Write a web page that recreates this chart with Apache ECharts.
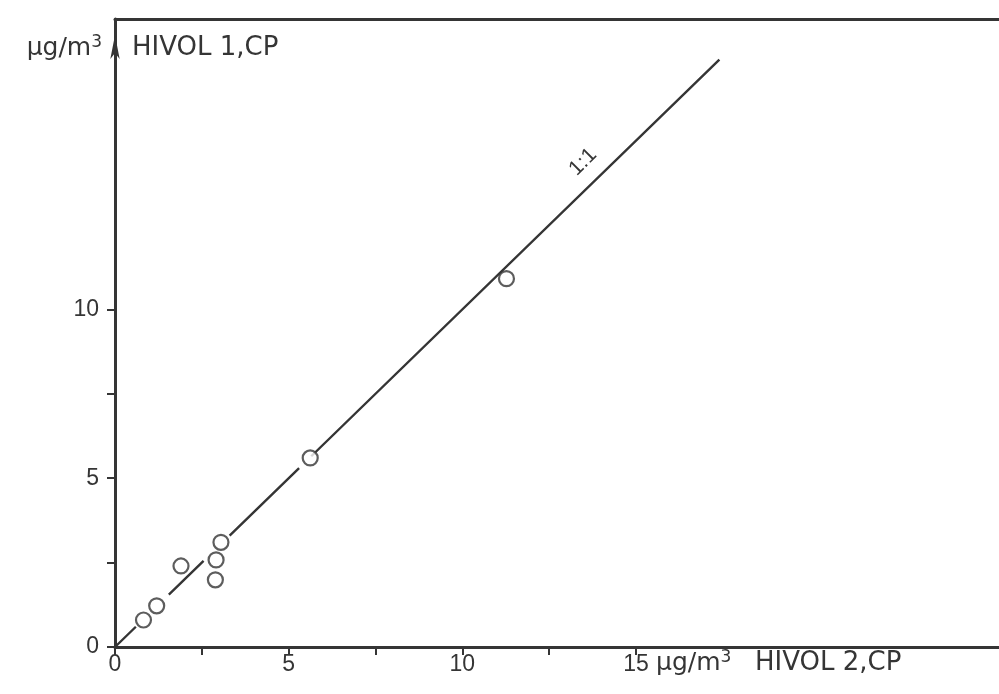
<!DOCTYPE html>
<html>
<head>
<meta charset="utf-8">
<script src="https://cdn.jsdelivr.net/npm/echarts@6/dist/echarts.min.js"></script>
<style>
html,body{margin:0;padding:0;background:#fff;}
#chart{width:999px;height:694px;}
</style>
</head>
<body>
<div id="chart"></div>
<script>
// HIVOL 2 (x) vs HIVOL 1 (y), µg/m3
const hivol2 = [0.82, 1.2, 1.9, 2.89, 2.91, 3.05, 5.62, 11.27];
const hivol1 = [0.80, 1.22, 2.4, 1.99, 2.58, 3.1, 5.6, 10.91];
// 1:1 reference line, drawn in pieces (gaps where the original line breaks)
const oneToOneSegments = [[0, 0.6], [1.55, 2.55], [3.3, 5.3], [5.65, 17.4]];
const xTickValues = [0, 2.5, 5, 7.5, 10, 12.5, 15];
const xLabelValues = [0, 5, 10, 15];
const yTickValues = [0, 2.5, 5, 7.5, 10];
const yLabelValues = [0, 5, 10];

const ink = '#353535';
const font = 'Liberation Sans, Arial, sans-serif';
const wide = 'DejaVu Sans, sans-serif';

const lineData = [];
oneToOneSegments.forEach(function (s, i) {
  if (i > 0) lineData.push([null, null]);
  lineData.push([s[0], s[0]]);
  lineData.push([s[1], s[1]]);
});
const pts = hivol2.map(function (x, i) { return [x, hivol1[i]]; });

const chart = echarts.init(document.getElementById('chart'), null, {renderer: 'canvas'});
chart.setOption({
  animation: false,
  backgroundColor: '#fff',
  grid: {left: 115, right: 0, top: 19, bottom: 47, containLabel: false},
  xAxis: [{
    type: 'value', min: 0, max: 25.45, position: 'bottom',
    axisLine: {show: true, onZero: false, lineStyle: {color: ink, width: 3}},
    axisTick: {show: true, customValues: xTickValues, length: 8, lineStyle: {color: ink, width: 2}},
    axisLabel: {show: true, customValues: xLabelValues, color: ink, fontSize: 23, fontFamily: font, margin: 6},
    splitLine: {show: false}
  }, {
    type: 'value', min: 0, max: 25.45, position: 'top',
    axisLine: {show: true, onZero: false, lineStyle: {color: ink, width: 3}},
    axisTick: {show: false}, axisLabel: {show: false}, splitLine: {show: false}
  }],
  yAxis: [{
    type: 'value', min: 0, max: 18.6,
    axisLine: {show: true, onZero: false, lineStyle: {color: ink, width: 3},
      symbol: ['none', 'arrow'], symbolSize: [7, 24], symbolOffset: [0, -16]},
    axisTick: {show: true, customValues: yTickValues, length: 8, lineStyle: {color: ink, width: 2}},
    axisLabel: {show: true, customValues: yLabelValues, color: ink, fontSize: 23, fontFamily: font, margin: 16},
    splitLine: {show: false}
  }],
  series: [{
    type: 'line', data: lineData, connectNulls: false, symbol: 'none',
    lineStyle: {color: ink, width: 2.4}, z: 2
  }, {
    type: 'scatter', data: pts, symbol: 'circle', symbolSize: 15,
    itemStyle: {color: '#fff', borderColor: ink, borderWidth: 2.2}, z: 3
  }],
  graphic: [{
    type: 'text', x: 102, y: 48,
    style: {text: '{a|µg/m}{s|3}', align: 'right', verticalAlign: 'middle', fill: ink,
      rich: {a: {fontSize: 25, fontFamily: wide, fill: ink}, s: {fontSize: 17, fontFamily: wide, fill: ink, padding: [0, 0, 10, 0]}}}
  }, {
    type: 'text', x: 132, y: 48,
    style: {text: 'HIVOL 1,CP', align: 'left', verticalAlign: 'middle', fill: ink, fontSize: 26, fontFamily: wide}
  }, {
    type: 'text', x: 656, y: 663,
    style: {text: '{a|µg/m}{s|3}', align: 'left', verticalAlign: 'middle', fill: ink,
      rich: {a: {fontSize: 25, fontFamily: wide, fill: ink}, s: {fontSize: 17, fontFamily: wide, fill: ink, padding: [0, 0, 10, 0]}}}
  }, {
    type: 'text', x: 755, y: 663,
    style: {text: 'HIVOL 2,CP', align: 'left', verticalAlign: 'middle', fill: ink, fontSize: 26, fontFamily: wide}
  }, {
    type: 'text', x: 583, y: 162, rotation: Math.PI / 4,
    style: {text: '1:1', align: 'center', verticalAlign: 'middle', fill: ink, fontSize: 21, fontFamily: font}
  }]
});
</script>
</body>
</html>
